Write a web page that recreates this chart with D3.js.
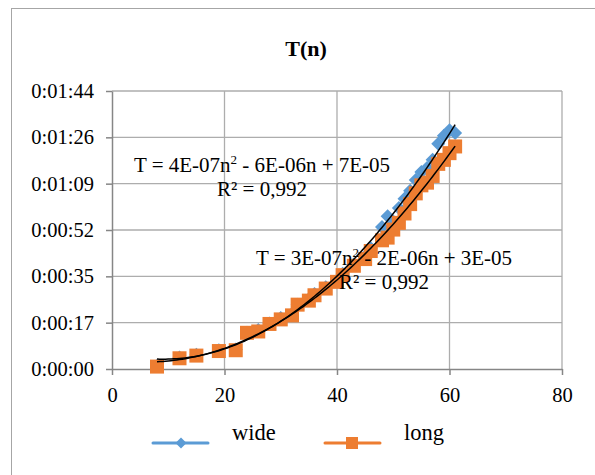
<!DOCTYPE html>
<html>
<head>
<meta charset="utf-8">
<script src="https://cdn.jsdelivr.net/npm/d3@7"></script>
<style>
  body { margin: 0; background: #fff; }
  text { font-family: Liberation Serif; }
</style>
</head>
<body>
<script>
// n values (shared by both series)
const nValues = [8, 12, 15, 19, 22, 24, 26, 28, 30, 32, 33, 35, 36, 38, 40, 41, 43, 45, 46, 48, 49, 50, 51, 52, 53, 54, 55, 56, 57, 58, 59, 60, 61];
// T in seconds
const wideT = [1.2, 4.3, 5.3, 7.0, 7.3, 13.5, 14.5, 17.0, 19.0, 20.5, 24.0, 26.0, 28.0, 30.5, 33.0, 35.5, 39.0, 42.0, 45.0, 53.0, 57.0, 55.0, 60.0, 63.5, 66.5, 70.5, 73.5, 75.0, 78.0, 84.0, 87.0, 89.0, 88.0];
const longT = [0.9, 4.0, 5.0, 6.7, 7.0, 13.5, 14.0, 16.8, 18.5, 20.0, 24.0, 25.5, 27.5, 30.0, 32.5, 35.0, 38.5, 41.0, 44.0, 48.0, 49.0, 52.0, 54.5, 58.0, 61.5, 65.5, 68.5, 69.5, 72.0, 76.5, 78.0, 80.5, 83.0];
const seriesNames = ["wide", "long"];
const seriesColors = ["#5B9BD5", "#ED7D31"];
const xTicks = [0, 20, 40, 60, 80];
// 0.0002 day steps (Excel time axis)
const yTicks = [0, 17.28, 34.56, 51.84, 69.12, 86.4, 103.68];
const equations = [
  ["T = 4E-07n", "2", " - 6E-06n + 7E-05", "R² = 0,992"],
  ["T = 3E-07n", "2", " - 2E-06n + 3E-05", "R² = 0,992"]
];

const width = 595, height = 475;
const margin = {left: 112, right: 33, top: 91, bottom: 106};

const svg = d3.select("body").append("svg")
  .attr("width", width)
  .attr("height", height)
  .attr("font-family", "Liberation Serif");

// chart frame
svg.append("rect")
  .attr("x", 11.5).attr("y", 8.5)
  .attr("width", 620).attr("height", 500)
  .attr("fill", "none")
  .attr("stroke", "#A6A6A6")
  .attr("stroke-width", 1);

const x = d3.scaleLinear().domain([0, 80]).range([margin.left, width - margin.right]);
const y = d3.scaleLinear().domain([0, 103.68]).range([height - margin.bottom, margin.top]);

// gridlines
svg.append("g")
  .attr("stroke", "#ADADAD")
  .attr("stroke-width", 1.3)
  .selectAll("line.h")
  .data(yTicks.slice(1))
  .join("line")
    .attr("x1", x(0)).attr("x2", x(80))
    .attr("y1", d => y(d)).attr("y2", d => y(d));

svg.append("g")
  .attr("stroke", "#ADADAD")
  .attr("stroke-width", 1.3)
  .selectAll("line.v")
  .data(xTicks.slice(1))
  .join("line")
    .attr("x1", d => x(d)).attr("x2", d => x(d))
    .attr("y1", y(0)).attr("y2", y(103.68));

// time label like Excel h:mm:ss
function fmtTime(s) {
  const t = Math.round(s);
  const h = Math.floor(t / 3600);
  const m = Math.floor((t % 3600) / 60);
  const sec = t % 60;
  return h + ":" + String(m).padStart(2, "0") + ":" + String(sec).padStart(2, "0");
}

const xAxis = svg.append("g")
  .attr("transform", `translate(0,${y(0)})`)
  .call(d3.axisBottom(x).tickValues(xTicks).tickSize(6).tickPadding(12.5).tickSizeOuter(0));
const yAxis = svg.append("g")
  .attr("transform", `translate(${x(0)},0)`)
  .call(d3.axisLeft(y).tickValues(yTicks).tickFormat(fmtTime).tickSize(6).tickPadding(12).tickSizeOuter(0));

[xAxis, yAxis].forEach(a => {
  a.attr("font-family", null).attr("font-size", 20.5);
  a.select(".domain").attr("stroke", "#868686").attr("stroke-width", 1.5);
  a.selectAll(".tick line").attr("stroke", "#868686").attr("stroke-width", 1.5);
  a.selectAll(".tick text").attr("fill", "#000");
});

// title
svg.append("text")
  .attr("x", 306).attr("y", 56)
  .attr("text-anchor", "middle")
  .attr("font-size", 22)
  .attr("font-weight", "bold")
  .text("T(n)");

// markers
const diamond = r => `M0,${-r}L${r},0L0,${r}L${-r},0Z`;
const series = [wideT, longT].map((vals, i) =>
  nValues.map((n, j) => ({n: n, t: vals[j], s: i})));

svg.append("g")
  .selectAll("path")
  .data(series[0])
  .join("path")
    .attr("transform", d => `translate(${x(d.n)},${y(d.t)})`)
    .attr("d", diamond(7))
    .attr("fill", seriesColors[0]);

svg.append("g")
  .selectAll("rect")
  .data(series[1])
  .join("rect")
    .attr("x", d => x(d.n) - 7)
    .attr("y", d => y(d.t) - 7)
    .attr("width", 14).attr("height", 14)
    .attr("fill", seriesColors[1]);

// quadratic least squares trendline
function polyFit(xs, ys) {
  let s = [0, 0, 0, 0, 0], r = [0, 0, 0];
  xs.forEach((xv, i) => {
    for (let k = 0; k < 5; k++) s[k] += Math.pow(xv, k);
    for (let k = 0; k < 3; k++) r[k] += ys[i] * Math.pow(xv, k);
  });
  const A = [[s[0], s[1], s[2], r[0]], [s[1], s[2], s[3], r[1]], [s[2], s[3], s[4], r[2]]];
  for (let c = 0; c < 3; c++) {
    for (let rr = c + 1; rr < 3; rr++) {
      const f = A[rr][c] / A[c][c];
      for (let k = c; k < 4; k++) A[rr][k] -= f * A[c][k];
    }
  }
  const b = [0, 0, 0];
  for (let c = 2; c >= 0; c--) {
    let v = A[c][3];
    for (let k = c + 1; k < 3; k++) v -= A[c][k] * b[k];
    b[c] = v / A[c][c];
  }
  return n => b[0] + b[1] * n + b[2] * n * n;
}

const line = d3.line().x(d => x(d[0])).y(d => y(d[1]));
const nMin = d3.min(nValues), nMax = d3.max(nValues);
[wideT, longT].forEach(vals => {
  const f = polyFit(nValues, vals);
  const pts = d3.range(nMin, nMax + 0.01, 0.5).map(n => [n, f(n)]);
  svg.append("path")
    .attr("d", line(pts))
    .attr("fill", "none")
    .attr("stroke", "#000")
    .attr("stroke-width", 1.5);
});

// trendline equations
const eqPos = [[262, 172], [384, 265]];
equations.forEach((eq, i) => {
  const t = svg.append("text")
    .attr("x", eqPos[i][0]).attr("y", eqPos[i][1])
    .attr("text-anchor", "middle")
    .attr("font-size", 21);
  t.append("tspan").text(eq[0]);
  t.append("tspan").attr("dy", -8).attr("font-size", 13).text(eq[1]);
  t.append("tspan").attr("dy", 8).text(eq[2]);
  svg.append("text")
    .attr("x", eqPos[i][0]).attr("y", eqPos[i][1] + 24)
    .attr("text-anchor", "middle")
    .attr("font-size", 21)
    .text(eq[3]);
});

// legend
const legend = svg.append("g");
const legX = [153, 325];
seriesNames.forEach((name, i) => {
  const g = legend.append("g").attr("transform", `translate(${legX[i]},443)`);
  g.append("line")
    .attr("x1", 0).attr("x2", 55)
    .attr("stroke", seriesColors[i])
    .attr("stroke-width", 3)
    .attr("stroke-linecap", "round");
  if (i === 0) {
    g.append("path").attr("transform", "translate(28,0)").attr("d", diamond(5.5)).attr("fill", seriesColors[i]);
  } else {
    g.append("rect").attr("x", 21).attr("y", -6).attr("width", 12).attr("height", 12).attr("fill", seriesColors[i]);
  }
  g.append("text")
    .attr("x", 79).attr("y", -3)
    .attr("font-size", 22.5)
    .text(name);
});
</script>
</body>
</html>
